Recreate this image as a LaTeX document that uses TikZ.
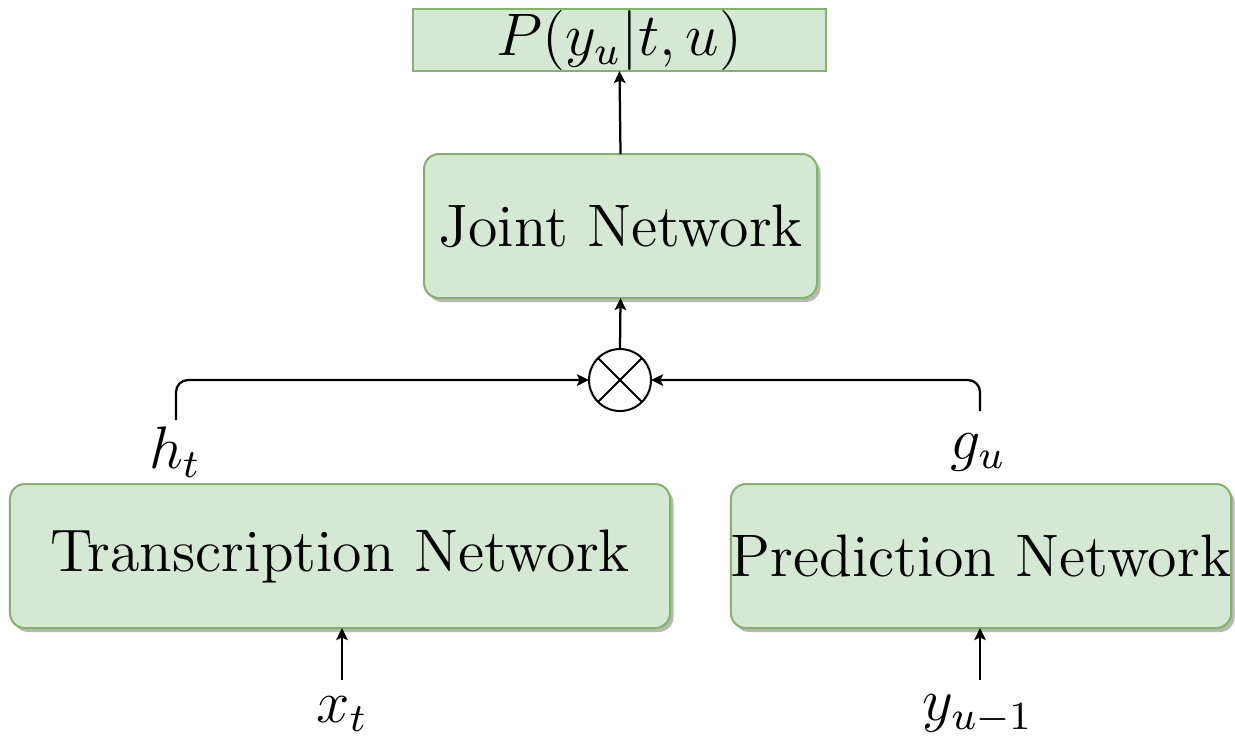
\documentclass[tikz,border=0pt]{standalone}
\usetikzlibrary{arrows.meta,shadows}
\definecolor{boxfill}{HTML}{D5E8D4}
\definecolor{boxline}{HTML}{82B366}
\begin{document}
\begin{tikzpicture}[x=0.2pt,y=-0.2pt,
  font=\fontsize{11.5}{14}\selectfont,
  netbox/.style={draw=boxline, fill=boxfill, line width=0.4pt, rounded corners=3pt,
    inner sep=0pt, outer sep=0pt, minimum height=28.8pt,
    font=\fontsize{12}{14}\selectfont,
    drop shadow={shadow xshift=0.7pt, shadow yshift=-0.8pt, fill=black!35, opacity=0.8}},
  outbox/.style={draw=boxline, fill=boxfill, line width=0.4pt,
    inner sep=0pt, outer sep=0pt, minimum width=82.6pt, minimum height=12.4pt},
  mulnode/.style={circle, draw, line width=0.4pt, minimum size=12.4pt, inner sep=0pt, outer sep=0pt},
  arr/.style={line width=0.45pt, -{Stealth[length=2.4pt,width=2.3pt,inset=0.5pt]}},
  lbl/.style={inner sep=0pt}]
\useasboundingbox (0,0) rectangle (1235,738);

% output distribution
\node[outbox] (out) at (619.5,40) {$P(y_u|t,u)$};

% networks
\node[netbox, minimum width=78.6pt] (joint) at (620.5,226) {Joint Network};
\node[netbox, minimum width=132pt] (trans) at (340,556) {Transcription Network};
\node[netbox, minimum width=99.2pt] (pred) at (981,556) {Prediction Network};

% combination
\node[mulnode] (mul) at (620,380) {};
\draw[line width=0.4pt] (mul.north west) -- (mul.south east)
                        (mul.north east) -- (mul.south west);

% labels
\node[lbl] (ht) at (175,452) {$h_t$};
\node[lbl] (gu) at (978,452) {$g_u$};
\node[lbl] (xt) at (342,714) {$x_t$};
\node[lbl] (yu) at (978,714) {$y_{u-1}$};

% connector anchors
\coordinate (hs) at (176,420);
\coordinate (gs) at (980,411);
\coordinate (xs) at (342,680);
\coordinate (ys) at (980,680);

% connectors
\draw[arr] (joint.north) -- (out.south);
\draw[arr] (mul.north) -- (joint.south);
\draw[arr, rounded corners=2.4pt] (hs) |- (mul.west);
\draw[arr, rounded corners=2.4pt] (gs) |- (mul.east);
\draw[arr] (xs) -- (xs |- trans.south);
\draw[arr] (ys) -- (ys |- pred.south);
\end{tikzpicture}
\end{document}
